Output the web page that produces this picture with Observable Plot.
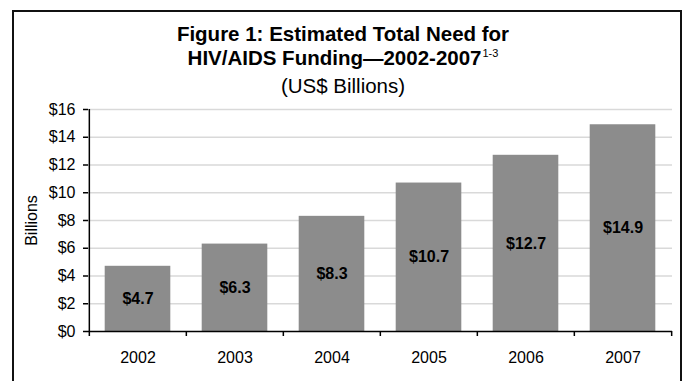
<!DOCTYPE html>
<html>
<head>
<meta charset="utf-8">
<script src="https://cdn.jsdelivr.net/npm/d3@7"></script>
<script src="https://cdn.jsdelivr.net/npm/@observablehq/plot@0.6"></script>
<style>
  html, body { margin: 0; padding: 0; width: 686px; height: 381px; overflow: hidden; background: #fff; }
  body { position: relative; font-family: "Liberation Sans", Arial, sans-serif; color: #000; }
  #frame { position: absolute; left: 12px; top: 10px; width: 670px; height: 400px; border: 2px solid #111; box-sizing: border-box; }
  .t { position: absolute; left: 0; width: 686px; text-align: center; white-space: nowrap; }
  .b { font-weight: bold; font-size: 20.5px; line-height: 24px; }
  .n { font-weight: normal; font-size: 20.5px; line-height: 24px; }
  sup { font-size: 11px; font-weight: normal; vertical-align: 0; position: relative; top: -8px; margin-left: 1px; }
  #chart { position: absolute; left: 0; top: 90px; }
</style>
</head>
<body>
<div id="frame"></div>
<div class="t b" style="top:22px">Figure 1: Estimated Total Need for</div>
<div class="t b" style="top:46px">HIV/AIDS Funding—2002-2007<sup>1-3</sup></div>
<div class="t n" style="top:74px">(US$ Billions)</div>
<div id="chart"></div>
<script>
const years = ["2002", "2003", "2004", "2005", "2006", "2007"];
const need = [4.7, 6.3, 8.3, 10.7, 12.7, 14.9];
const yTicks = [0, 2, 4, 6, 8, 10, 12, 14, 16];
const yTickLabels = yTicks.map(d => "$" + d);
const yLabel = "Billions";

const data = years.map((y, i) => ({year: y, value: need[i]}));

const W = 686, H = 291, ML = 88, MR = 14, MT = 19, MB = 50;
const bw = (W - ML - MR) / years.length;

const chart = Plot.plot({
  width: W,
  height: H,
  marginLeft: ML,
  marginRight: MR,
  marginTop: MT,
  marginBottom: MB,
  style: {fontFamily: "Liberation Sans, Arial, sans-serif", fontSize: "16px", color: "#000", background: "transparent"},
  x: {domain: years, padding: 0, label: null},
  y: {domain: [0, 16], label: null},
  marks: [
    Plot.gridY(yTicks.slice(1), {stroke: "#d9d9d9", strokeOpacity: 1, strokeWidth: 1.5}),
    Plot.barY(data, {x: "year", y: "value", fill: "#8c8c8c", insetLeft: 15.7, insetRight: 15.7}),
    Plot.text(data, {x: "year", y: d => d.value / 2, text: d => "$" + d.value.toFixed(1), fontWeight: "bold", fontSize: 16, fill: "#000"}),
    Plot.ruleY([0], {stroke: "#000", strokeWidth: 1.5}),
    Plot.ruleX([years[0]], {y1: 0, y2: 16, dx: -bw / 2, stroke: "#000", strokeWidth: 1.5}),
    Plot.axisY({ticks: yTicks, tickFormat: d => yTickLabels[yTicks.indexOf(d)], tickSize: 5, tickPadding: 8, fontSize: 16, label: yLabel, labelAnchor: "center", labelOffset: 63, labelArrow: "none", stroke: "#000", strokeWidth: 1.5}),
    Plot.axisX(years, {tickSize: 5, text: null, dx: -bw / 2, stroke: "#000", strokeWidth: 1.5}),
    Plot.axisX([years[years.length - 1]], {tickSize: 5, text: null, dx: bw / 2, stroke: "#000", strokeWidth: 1.5}),
    Plot.axisX(years, {tickSize: 0, tickPadding: 20, fontSize: 16, label: null})
  ]
});
document.getElementById("chart").appendChild(chart);
</script>
</body>
</html>
